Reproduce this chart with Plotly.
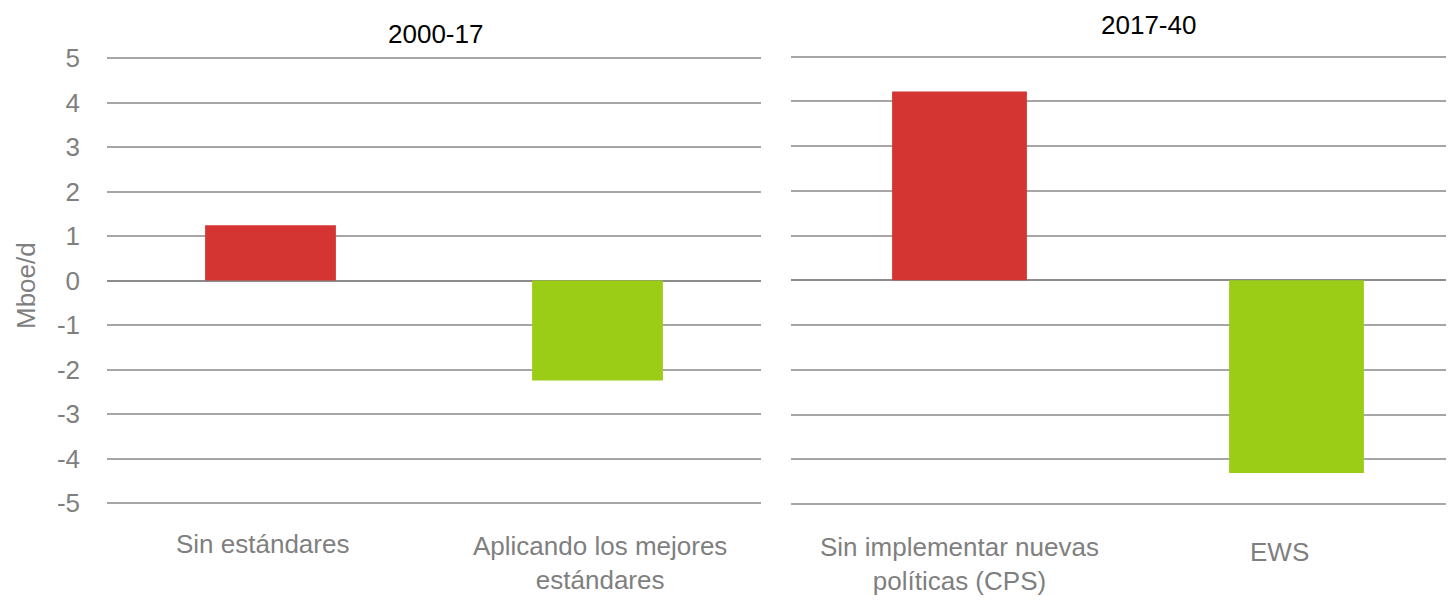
import plotly.graph_objects as go

# ---- data ----
left_categories = ["Sin estándares", "Aplicando los mejores<br>estándares"]
left_values = [1.24, -2.25]
right_categories = ["Sin implementar nuevas<br>políticas (CPS)", "EWS"]
right_values = [4.22, -4.31]
bar_colors = ["#D43533", "#9BCC16"]
y_ticks = [-5, -4, -3, -2, -1, 0, 1, 2, 3, 4, 5]
y_ticktext = [str(v) for v in y_ticks]
panel_titles = ["2000-17", "2017-40"]
y_title = "Mboe/d"

# page body has an 8px margin: build the figure so it fills the 1454x600 window
OFF = 8
W, H = 1454 - OFF, 600 - OFF
FONT = "Liberation Sans, Arial, sans-serif"
FS = 26
GRAY = "#7F7F7F"
GRID = "#A6A6A6"
ZERO = "#8C8C8C"
PAD = 0.04  # small range padding so edge gridlines are drawn


def fx(px):
    return (px - OFF) / W


def fy(py):
    return (H - (py - OFF)) / H


def ydomain(top_px, bottom_px):
    ppu = (bottom_px - top_px) / 10.0
    t = top_px - PAD * ppu
    b = bottom_px + PAD * ppu
    return [fy(b), fy(t)]


fig = go.Figure()
fig.add_trace(go.Bar(x=[0, 1], y=left_values, marker_color=bar_colors,
                     marker_line_width=0, width=0.4, xaxis="x", yaxis="y"))
fig.add_trace(go.Bar(x=[0, 1], y=right_values, marker_color=bar_colors,
                     marker_line_width=0, width=0.4, xaxis="x2", yaxis="y2"))

yaxis_common = dict(range=[-5 - PAD, 5 + PAD], tickvals=y_ticks, ticktext=y_ticktext,
                    showgrid=True, gridcolor=GRID, gridwidth=2,
                    zeroline=True, zerolinecolor=ZERO, zerolinewidth=2,
                    showline=False, fixedrange=True, automargin=False)
xaxis_common = dict(showgrid=False, showline=False, zeroline=False, ticks="",
                    showticklabels=False, automargin=False, fixedrange=True)

fig.update_layout(
    width=W, height=H,
    margin=dict(l=0, r=0, t=0, b=0),
    paper_bgcolor="white", plot_bgcolor="white",
    showlegend=False,
    font=dict(family=FONT, size=FS, color=GRAY),
    xaxis=dict(domain=[fx(107), fx(761)], range=[-0.5, 1.5], anchor="y", **xaxis_common),
    xaxis2=dict(domain=[fx(791), 1.0], range=[-0.5, -0.5 + 663 / 337], anchor="y2",
                **xaxis_common),
    yaxis=dict(domain=ydomain(58, 503), anchor="x", ticklabelstandoff=26,
               tickfont=dict(size=FS, color=GRAY), **yaxis_common),
    yaxis2=dict(domain=ydomain(56.5, 504), anchor="x2", showticklabels=False, **yaxis_common),
)

# category labels (placed at the category positions of each x axis)
cat_labels = [
    ("x", 0, left_categories[0], -8, 544),
    ("x", 1, left_categories[1], 2, 563),
    ("x2", 0, right_categories[0], 0, 564),
    ("x2", 1, right_categories[1], -17, 552),
]
for xref, xv, txt, dx, cy in cat_labels:
    fig.add_annotation(text=txt, x=xv, xref=xref, y=fy(cy), yref="paper", xshift=dx,
                       showarrow=False, font=dict(family=FONT, size=FS, color=GRAY),
                       xanchor="center", yanchor="middle", align="center")

fig.add_annotation(text=panel_titles[0], x=fx(435), y=fy(34), xref="paper", yref="paper",
                   showarrow=False, font=dict(family=FONT, size=FS, color="black"),
                   xanchor="center", yanchor="middle")
fig.add_annotation(text=panel_titles[1], x=fx(1148), y=fy(25), xref="paper", yref="paper",
                   showarrow=False, font=dict(family=FONT, size=FS, color="black"),
                   xanchor="center", yanchor="middle")
fig.add_annotation(text=y_title, x=fx(26), y=fy(286), xref="paper", yref="paper",
                   showarrow=False, textangle=-90, font=dict(family=FONT, size=FS, color=GRAY),
                   xanchor="center", yanchor="middle")

fig.write_html("out.html")
